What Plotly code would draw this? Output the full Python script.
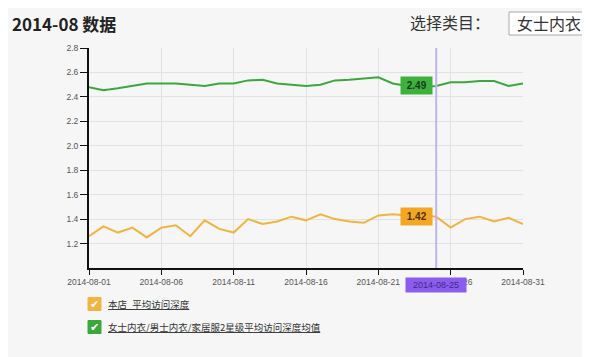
import plotly.graph_objects as go
import pandas as pd

# ---- data ----
dates = [d.strftime("%Y-%m-%d") for d in pd.date_range("2014-08-01", "2014-08-31")]
shop_depth = [1.26, 1.34, 1.29, 1.33, 1.25, 1.33, 1.35, 1.26, 1.39, 1.32,
              1.29, 1.40, 1.36, 1.38, 1.42, 1.39, 1.44, 1.40, 1.38, 1.37,
              1.43, 1.44, 1.43, 1.43, 1.42, 1.33, 1.40, 1.42, 1.38, 1.41, 1.36]
industry_depth = [2.48, 2.455, 2.47, 2.49, 2.51, 2.51, 2.51, 2.50, 2.49, 2.51,
                  2.51, 2.535, 2.54, 2.51, 2.50, 2.49, 2.50, 2.535, 2.54, 2.55,
                  2.56, 2.51, 2.49, 2.48, 2.49, 2.52, 2.52, 2.53, 2.53, 2.49, 2.51]
series_names = ["本店_平均访问深度", "女士内衣/男士内衣/家居服2星级平均访问深度均值"]
y_ticks = [1.2, 1.4, 1.6, 1.8, 2.0, 2.2, 2.4, 2.6, 2.8]
x_ticks = dates[::5]
hover_index = 24
title_text = "2014-08 数据"
select_label = "选择类目："
select_value = "女士内衣"

ORANGE = "#f2b340"
GREEN = "#3aa83a"
PURPLE = "#8c5cf0"
BG = "#f6f6f6"
FONT = "Liberation Sans, Arial, Noto Sans CJK SC, sans-serif"
CJK = "Noto Sans CJK SC, Liberation Sans, sans-serif"

OFF = 8  # default page body margin
W, H = 590 - OFF, 357 - OFF
ML, MT, MB, MR = 89 - OFF, 48 - OFF, 89, 67
PW, PH = W - ML - MR, H - MT - MB


def px(x):
    return (x - OFF - ML) / PW


def py(y):
    return (H - MB - (y - OFF)) / PH


fig = go.Figure()
fig.add_trace(go.Scatter(x=dates, y=shop_depth, mode="lines", name=series_names[0],
                         line=dict(color=ORANGE, width=2), showlegend=False))
fig.add_trace(go.Scatter(x=dates, y=industry_depth, mode="lines", name=series_names[1],
                         line=dict(color=GREEN, width=2), showlegend=False))

# hover crosshair
fig.add_shape(type="line", xref="x", yref="paper", x0=dates[hover_index], x1=dates[hover_index],
              y0=0, y1=1, line=dict(color="#c2b2f2", width=2), layer="above")

NB = "&nbsp;"
ann = []
# value badges
ann.append(dict(x=dates[hover_index], y=industry_depth[hover_index], xref="x", yref="y",
                text=NB + "<b>%.2f</b>" % industry_depth[hover_index] + NB, showarrow=False,
                xanchor="right", yanchor="middle", xshift=-3, bgcolor="#3cb23c",
                borderpad=3, font=dict(family=FONT, size=10, color="#1d3a1d")))
ann.append(dict(x=dates[hover_index], y=shop_depth[hover_index], xref="x", yref="y",
                text=NB + "<b>%.2f</b>" % shop_depth[hover_index] + NB, showarrow=False,
                xanchor="right", yanchor="middle", xshift=-3, bgcolor="#f5a623",
                borderpad=3, font=dict(family=FONT, size=10, color="#4a3310")))
# x badge
ann.append(dict(x=dates[hover_index], y=0, xref="x", yref="paper",
                text=NB + NB + dates[hover_index] + NB + NB, showarrow=False,
                xanchor="center", yanchor="top",
                yshift=-9, bgcolor=PURPLE, borderpad=2,
                font=dict(family=FONT, size=9, color="#3b2c86")))
# header
ann.append(dict(x=px(10), y=py(23), xref="paper", yref="paper", text="<b>" + title_text + "</b>",
                showarrow=False, xanchor="left", yanchor="middle",
                font=dict(family=CJK, size=17, color="#222")))
ann.append(dict(x=px(408), y=py(22), xref="paper", yref="paper", text=select_label,
                showarrow=False, xanchor="left", yanchor="middle",
                font=dict(family=CJK, size=16, color="#333")))
ann.append(dict(x=px(515), y=py(23), xref="paper", yref="paper", text=select_value,
                showarrow=False, xanchor="left", yanchor="middle",
                font=dict(family=CJK, size=16, color="#333")))
fig.add_shape(type="rect", xref="paper", yref="paper", x0=px(509), x1=px(600), y0=py(12), y1=py(35),
              line=dict(color="#a9a9a9", width=1), fillcolor="white", layer="below")

# legend (checkboxes)
for i, (name, col) in enumerate(zip(series_names, [ORANGE, GREEN])):
    yc = 304 + i * 23
    fig.add_shape(type="rect", xref="paper", yref="paper", x0=px(88), x1=px(101),
                  y0=py(yc - 6.5), y1=py(yc + 6.5), line=dict(color=col, width=1),
                  fillcolor=col)
    ann.append(dict(x=px(94.5), y=py(yc), xref="paper", yref="paper", text="✔",
                    showarrow=False, xanchor="center", yanchor="middle",
                    font=dict(family="DejaVu Sans", size=11, color="white")))
    ann.append(dict(x=px(106), y=py(yc), xref="paper", yref="paper", text="<u>" + name + "</u>",
                    showarrow=False, xanchor="left", yanchor="middle",
                    font=dict(family=CJK, size=9.5, color="#333")))

fig.update_layout(
    width=W, height=H,
    margin=dict(l=ML, r=MR, t=MT, b=MB),
    paper_bgcolor=BG, plot_bgcolor=BG,
    annotations=ann,
    showlegend=False,
    font=dict(family=FONT, size=9, color="#555"),
)
fig.update_xaxes(range=[dates[0], dates[-1]], tickvals=x_ticks, ticktext=x_ticks,
                 showgrid=True, gridcolor="#e2e2e2", gridwidth=1,
                 showline=True, linecolor="#111", linewidth=2,
                 ticks="outside", ticklen=5, tickcolor="#111", tickwidth=1,
                 tickfont=dict(size=8.5, color="#555"), zeroline=False, fixedrange=True)
fig.update_yaxes(range=[1.0, 2.8], tickvals=y_ticks, ticktext=["%.1f" % v for v in y_ticks],
                 showgrid=True, gridcolor="#e2e2e2", gridwidth=1,
                 showline=True, linecolor="#111", linewidth=2,
                 ticks="outside", ticklen=7, tickcolor="#111", tickwidth=1,
                 tickfont=dict(size=8.5, color="#555"), zeroline=False, fixedrange=True)

fig.write_html("out.html")
